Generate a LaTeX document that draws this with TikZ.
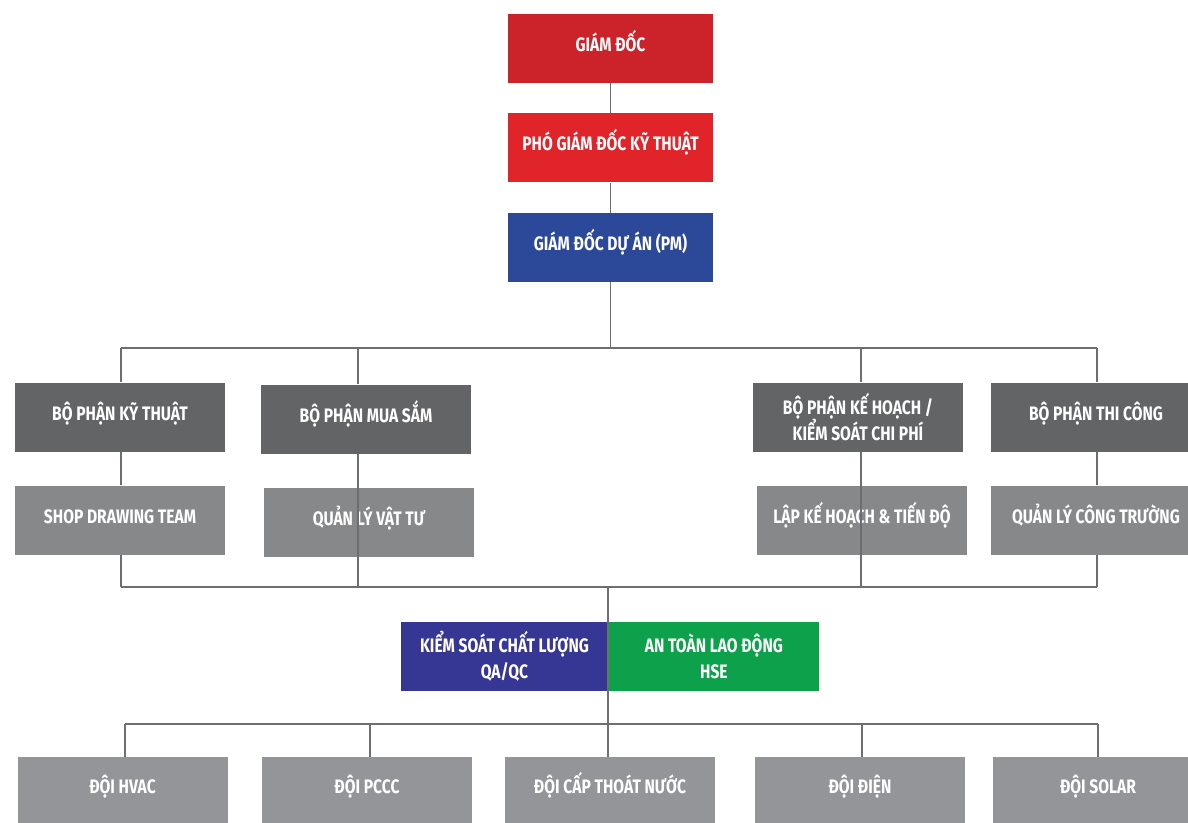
\documentclass[tikz,border=0pt]{standalone}
\usepackage{fontspec}
\setmainfont{Fira Sans}[FakeStretch=0.80]
\usetikzlibrary{positioning}

\definecolor{gdred}{HTML}{CC2229}
\definecolor{pgdred}{HTML}{E1232A}
\definecolor{pmblue}{HTML}{2C4898}
\definecolor{deptgray}{HTML}{636466}
\definecolor{subgray}{HTML}{87888A}
\definecolor{teamgray}{HTML}{939598}
\definecolor{qablue}{HTML}{363795}
\definecolor{hsegreen}{HTML}{0DA14B}
\definecolor{linegray}{HTML}{6D6E71}

\begin{document}
\begin{tikzpicture}
    [x=1pt,y=-1pt,
      unit/.style={minimum width=210pt,minimum height=69pt,inner sep=2pt,align=center,
        text=white,font=\bfseries\fontsize{19.5}{26}\selectfont,
        text height=12pt,text depth=6pt},
      twoline/.style={text height=,text depth=},
      dept/.style={unit,fill=deptgray},
      sub/.style={unit,fill=subgray},
      team/.style={unit,fill=teamgray,minimum height=66pt},
      link/.style={draw=linegray,line width=1.7pt}]

    \useasboundingbox (0,0) rectangle (1188,822);

    % ban giam doc
    \node[unit,fill=gdred,minimum width=205pt] (gd) at (610.5,48.5) {GIÁM ĐỐC};
    \node[unit,fill=pgdred,minimum width=205pt] (pgd) [below=30pt of gd] {PHÓ GIÁM ĐỐC KỸ THUẬT};
    \node[unit,fill=pmblue,minimum width=205pt] (pm) [below=30pt of pgd] {GIÁM ĐỐC DỰ ÁN (PM)};
    \draw[link] (gd) -- (pgd);
    \draw[link] (pgd) -- (pm);

    % cac bo phan
    \coordinate (busA) at (0,348);
    \coordinate (busB) at (0,587);
    \draw[link] (pm.south) -- (pm.south |- busA);
    \draw[link] (121,348) coordinate (a1) -- (1097,348) coordinate (a4);
    \coordinate (a2) at (358,348);
    \coordinate (a3) at (861,348);

    \node[dept] (kt) at (120,417) {BỘ PHẬN KỸ THUẬT};
    \node[dept] (ms) at (366,419) {BỘ PHẬN MUA SẮM};
    \node[dept,twoline] (kh) at (858,417) {BỘ PHẬN KẾ HOẠCH /\\KIỂM SOÁT CHI PHÍ};
    \node[dept] (tc) at (1096,417) {BỘ PHẬN THI CÔNG};

    \node[sub] (sd) at (120,520) {SHOP DRAWING TEAM};
    \node[sub] (vt) at (369,522) {QUẢN LÝ VẬT TƯ};
    \node[sub] (lkh) at (862,520) {LẬP KẾ HOẠCH \& TIẾN ĐỘ};
    \node[sub] (qlct) at (1096,520) {QUẢN LÝ CÔNG TRƯỜNG};

    \draw[link] (a1) -- (a1 |- kt.north);
    \draw[link] (a2) -- (a2 |- ms.north);
    \draw[link] (a3) -- (a3 |- kh.north);
    \draw[link] (a4) -- (a4 |- tc.north);
    \draw[link] (a1 |- kt.south) -- (a1 |- sd.north);
    \draw[link] (a4 |- tc.south) -- (a4 |- qlct.north);
    \draw[link] (a1 |- sd.south) -- (a1 |- busB);
    \draw[link] (a4 |- qlct.south) -- (a4 |- busB);
    \draw[link] (a2 |- ms.south) -- (a2 |- busB);
    \draw[link] (a3 |- kh.south) -- (a3 |- busB);
    \draw[link] (a1 |- busB) -- (a4 |- busB);

    % qa/qc va hse
    \node[unit,twoline,fill=qablue,minimum width=207pt] (qa) at (504.5,656) {KIỂM SOÁT CHẤT LƯỢNG\\QA/QC};
    \node[unit,twoline,fill=hsegreen,minimum width=211pt] (hse) [right=0pt of qa] {AN TOÀN LAO ĐỘNG\\HSE};
    \draw[link] (608,587) coordinate (c0) -- (608,724) coordinate (c1);

    % cac doi thi cong
    \draw[link] (125,724) -- (1098,724);
    \foreach \n/\x/\bx/\name in {1/122.5/125/ĐỘI HVAC,2/367/370/ĐỘI PCCC,
        3/610/608/ĐỘI CẤP THOÁT NƯỚC,4/860/862/ĐỘI ĐIỆN,5/1098/1098/ĐỘI SOLAR} {
      \node[team] (d\n) at (\x,790) {\name};
      \coordinate (e\n) at (\bx,724);
      \draw[link] (e\n) -- (e\n |- d\n.north);
    }

\end{tikzpicture}
\end{document}
